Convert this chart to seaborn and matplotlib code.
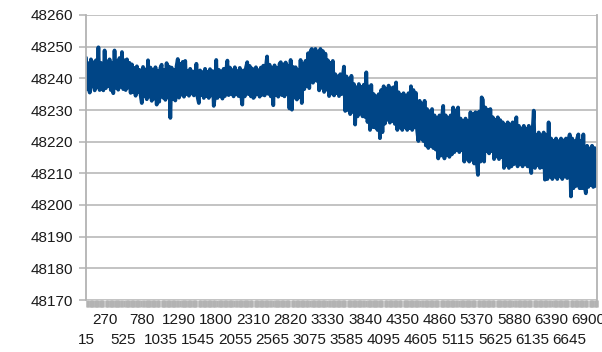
import matplotlib
matplotlib.use("Agg")
import matplotlib.pyplot as plt
from matplotlib.ticker import FixedLocator
import pandas as pd
import seaborn as sns

# Sensor readings, one value every 17th sample (sample numbers start at 15)
values = [
    48246.5, 48236.5, 48244.8, 48235.5, 48246.0, 48237.4, 48245.1, 48236.2,
    48245.7, 48237.3, 48249.8, 48236.3, 48244.9, 48237.6, 48236.2, 48248.8,
    48236.9, 48245.3, 48237.5, 48246.0, 48236.3, 48244.8, 48235.3, 48248.8,
    48237.0, 48245.4, 48236.4, 48246.4, 48237.3, 48248.3, 48236.6, 48245.7,
    48236.3, 48246.0, 48237.1, 48244.9, 48235.4, 48244.4, 48235.6, 48243.3,
    48234.5, 48243.8, 48235.6, 48242.7, 48234.8, 48232.2, 48243.6, 48234.3,
    48242.8, 48233.4, 48245.7, 48234.2, 48243.4, 48232.9, 48242.5, 48233.6,
    48243.5, 48231.7, 48242.4, 48232.6, 48243.3, 48244.3, 48233.9, 48242.6,
    48233.2, 48244.8, 48234.0, 48243.7, 48227.5, 48243.4, 48233.6, 48242.6,
    48233.0, 48243.8, 48246.1, 48233.9, 48244.6, 48234.8, 48245.2, 48234.2,
    48245.5, 48235.0, 48242.4, 48234.5, 48243.0, 48235.2, 48242.2, 48234.6,
    48235.1, 48244.6, 48234.0, 48232.2, 48242.5, 48234.7, 48242.0, 48233.8,
    48243.0, 48234.4, 48242.1, 48233.8, 48242.9, 48234.6, 48242.3, 48231.3,
    48234.5, 48245.8, 48233.8, 48242.7, 48234.4, 48242.2, 48233.6, 48243.0,
    48234.4, 48242.5, 48245.6, 48234.7, 48243.4, 48235.1, 48242.6, 48234.3,
    48243.5, 48235.0, 48242.3, 48234.4, 48243.3, 48235.0, 48231.7, 48242.5,
    48234.3, 48243.4, 48245.1, 48235.0, 48243.9, 48234.3, 48243.1, 48233.8,
    48234.3, 48243.5, 48235.0, 48242.6, 48234.2, 48243.4, 48234.8, 48244.0,
    48234.6, 48243.4, 48246.9, 48235.1, 48244.3, 48234.3, 48243.2, 48231.5,
    48244.1, 48234.8, 48243.3, 48234.2, 48244.5, 48245.1, 48234.7, 48244.4,
    48234.3, 48245.0, 48235.0, 48244.0, 48230.5, 48245.8, 48230.1, 48243.6,
    48233.9, 48243.5, 48233.3, 48242.6, 48234.0, 48245.8, 48232.2, 48244.6,
    48236.6, 48245.5, 48237.6, 48247.9, 48236.9, 48248.4, 48249.3, 48238.6,
    48240.0, 48249.3, 48239.2, 48248.3, 48236.2, 48249.3, 48237.0, 48248.6,
    48235.7, 48247.8, 48236.4, 48245.7, 48234.4, 48244.9, 48235.2, 48245.5,
    48234.6, 48241.3, 48235.3, 48240.6, 48234.4, 48241.3, 48235.0, 48240.4,
    48243.7, 48229.7, 48240.6, 48230.0, 48239.8, 48228.7, 48240.8, 48229.4,
    48238.2, 48225.4, 48237.2, 48228.0, 48238.2, 48228.9, 48237.3, 48228.0,
    48238.0, 48227.8, 48241.9, 48226.2, 48237.4, 48223.7, 48237.9, 48224.6,
    48235.0, 48224.5, 48234.3, 48223.7, 48235.0, 48221.1, 48236.3, 48223.0,
    48237.5, 48225.7, 48236.6, 48226.9, 48237.7, 48226.0, 48236.9, 48226.5,
    48237.2, 48225.6, 48238.7, 48223.7, 48235.6, 48224.5, 48234.8, 48223.7,
    48235.3, 48224.6, 48234.5, 48223.7, 48235.3, 48224.3, 48237.5, 48223.7,
    48236.3, 48224.5, 48235.4, 48223.5, 48220.2, 48232.9, 48221.0, 48232.0,
    48220.2, 48232.9, 48218.8, 48230.3, 48218.0, 48229.6, 48218.7, 48230.3,
    48218.0, 48228.3, 48217.5, 48227.5, 48214.7, 48228.3, 48215.6, 48227.6,
    48231.3, 48214.7, 48228.3, 48215.9, 48227.4, 48215.2, 48228.3, 48216.0,
    48230.8, 48216.7, 48229.9, 48217.3, 48230.8, 48216.7, 48227.3, 48217.4,
    48226.5, 48213.7, 48227.3, 48214.6, 48226.6, 48213.7, 48229.3, 48214.3,
    48228.6, 48213.1, 48229.3, 48213.8, 48209.5, 48229.5, 48213.7, 48234.0,
    48233.2, 48213.7, 48230.8, 48217.0, 48230.0, 48216.3, 48230.3, 48217.0,
    48227.7, 48214.5, 48226.9, 48215.3, 48227.7, 48214.5, 48226.8, 48215.1,
    48226.1, 48211.7, 48225.3, 48212.5, 48226.1, 48211.7, 48225.4, 48212.2,
    48226.1, 48212.9, 48225.2, 48227.7, 48212.2, 48225.0, 48213.0, 48224.2,
    48212.2, 48225.0, 48213.0, 48224.1, 48212.2, 48225.0, 48212.8, 48210.1,
    48222.9, 48229.8, 48211.7, 48222.1, 48212.5, 48222.9, 48211.7, 48222.0,
    48211.9, 48222.9, 48208.0, 48222.2, 48208.2, 48226.1, 48209.0, 48221.0,
    48208.2, 48220.3, 48209.0, 48221.0, 48208.2, 48220.2, 48209.1, 48221.0,
    48208.2, 48220.4, 48209.0, 48221.0, 48208.5, 48220.3, 48222.3, 48202.7,
    48221.0, 48205.3, 48220.2, 48206.0, 48221.0, 48222.3, 48205.3, 48220.3,
    48205.3, 48222.3, 48206.0, 48203.7, 48218.7, 48205.7, 48217.9, 48206.3,
    48218.7, 48205.7, 48218.0, 48206.0, 48214.0,
]

first_sample = 15
sample_step = 17
samples = [first_sample + sample_step * i for i in range(len(values))]
label_stride = 15  # one category label every 255 samples
y_ticks = [48170, 48180, 48190, 48200, 48210, 48220, 48230, 48240, 48250, 48260]

sns.set_style("white")
plt.rcParams["font.family"] = ["Liberation Sans", "DejaVu Sans"]

LINE = "#004586"
GRID = "#b3b3b3"
TEXT = "#1a1a1a"

fig = plt.figure(figsize=(6.02, 3.52), dpi=100)
ax = fig.add_axes([86 / 602, 52 / 352, 511 / 602, 285 / 352])

df = pd.DataFrame({"sample": samples, "value": values})
sns.lineplot(data=df, x="sample", y="value", ax=ax, color=LINE,
             linewidth=2.7, estimator=None, sort=False)
line = ax.lines[0]
line.set_solid_joinstyle("round")
line.set_solid_capstyle("round")

ax.set_xlim(samples[0], samples[-1])
ax.set_ylim(y_ticks[0], y_ticks[-1])
ax.set_xlabel("")
ax.set_ylabel("")

# horizontal grid
ax.set_yticks(y_ticks)
ax.set_yticklabels([str(v) for v in y_ticks])
ax.yaxis.grid(True, color=GRID, linewidth=1.1)
ax.xaxis.grid(False)
ax.set_axisbelow(True)
ax.tick_params(axis="y", length=5, width=1.1, color=GRID, pad=4.5,
               labelsize=11, labelcolor=TEXT, left=True)

# frame: grey left and right walls
for side in ("left", "right"):
    ax.spines[side].set_visible(True)
    ax.spines[side].set_color(GRID)
    ax.spines[side].set_linewidth(1.3)
ax.spines["top"].set_visible(False)
ax.spines["bottom"].set_visible(False)

# category axis: a tick at every sample, labels every 255 samples in two rows
label_samples = samples[::label_stride]
ax.xaxis.set_major_locator(FixedLocator(label_samples))
ax.set_xticklabels([str(s) for s in label_samples])
ax.xaxis.set_minor_locator(FixedLocator(samples))
ax.tick_params(axis="x", which="major", length=0, labelsize=11,
               labelcolor=TEXT, bottom=True)
ax.tick_params(axis="x", which="minor", length=5, width=1.8, color=GRID,
               bottom=True, direction="out")
for i, tick in enumerate(ax.xaxis.get_major_ticks()):
    tick.set_pad(9.5 if i % 2 else 24.0)

fig.savefig("out.png", dpi=100, facecolor="white")
